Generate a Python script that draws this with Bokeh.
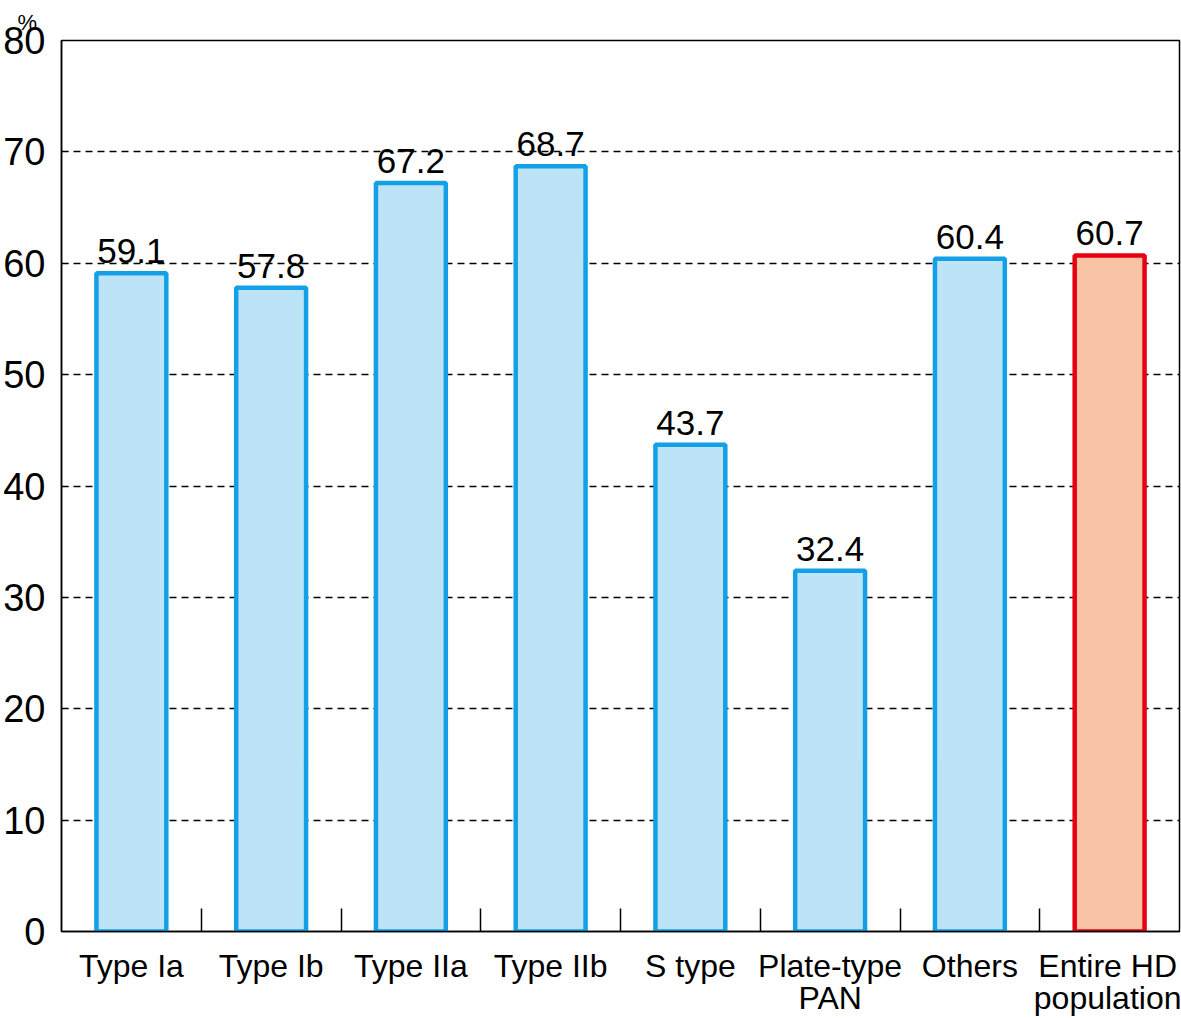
from bokeh.plotting import figure
from bokeh.models import Range1d, FixedTicker, ColumnDataSource
from bokeh.core.properties import value
from bokeh.embed import file_html
from bokeh.resources import INLINE

categories = ["Type Ia", "Type Ib", "Type IIa", "Type IIb", "S type",
              "Plate-type\nPAN", "Others", "Entire HD\npopulation"]
values = [59.1, 57.8, 67.2, 68.7, 43.7, 32.4, 60.4, 60.7]
y_ticks = [0, 10, 20, 30, 40, 50, 60, 70, 80]
unit_label = "%"
highlight = "Entire HD\npopulation"

FONT = "Liberation Sans"
n = len(categories)
centers = [i + 0.5 for i in range(n)]
bounds = [float(i) for i in range(1, n)]

src = ColumnDataSource(dict(
    x=centers,
    top=values,
    label=[f"{v:.1f}" for v in values],
    fill=["#f9c4a6" if c == highlight else "#bde3f7" for c in categories],
    line=["#e60012" if c == highlight else "#14a0e6" for c in categories],
))

p = figure(width=1181, height=1018, output_backend="svg", toolbar_location=None,
           x_range=Range1d(0, n), y_range=Range1d(y_ticks[0], y_ticks[-1]),
           min_border_left=60, min_border_right=2, min_border_top=40,
           min_border_bottom=83, title=unit_label)
p.background_fill_color = "white"
p.border_fill_color = "white"
p.outline_line_color = "black"
p.outline_line_width = 1.5

p.title.align = "left"
p.title.offset = -44
p.title.standoff = 12
p.title.text_font = FONT
p.title.text_font_size = "22px"
p.title.text_font_style = "normal"
p.title.text_color = "black"

p.vbar(x="x", top="top", width=0.5, bottom=0, source=src,
       fill_color="fill", line_color="line", line_width=4.5)

p.text(x="x", y="top", text="label", source=src, text_align="center",
       text_baseline="alphabetic", y_offset=-22,
       text_font=value(FONT), text_font_size="35px", text_color="black")

# grid
p.xgrid.visible = False
p.ygrid.ticker = FixedTicker(ticks=y_ticks[1:-1])
p.ygrid.grid_line_color = "black"
p.ygrid.grid_line_dash = "7 5"
p.ygrid.grid_line_width = 1.4

# y axis
ya = p.yaxis[0]
ya.ticker = FixedTicker(ticks=y_ticks)
ya.major_tick_in = 7
ya.major_tick_out = 0
ya.minor_tick_line_color = None
ya.axis_line_color = "black"
ya.axis_line_width = 1.5
ya.major_label_text_font = FONT
ya.major_label_text_font_size = "38px"
ya.major_label_text_color = "black"
ya.major_label_standoff = 16

# x axis
xa = p.xaxis[0]
xa.ticker = FixedTicker(ticks=centers, minor_ticks=bounds)
xa.major_label_overrides = {c: lab for c, lab in zip(centers, categories)}
xa.major_tick_line_color = None
xa.major_tick_in = 0
xa.major_tick_out = 0
xa.minor_tick_in = 23
xa.minor_tick_out = 0
xa.minor_tick_line_color = "black"
xa.minor_tick_line_width = 1.5
xa.axis_line_color = "black"
xa.axis_line_width = 1.5
xa.major_label_text_font = FONT
xa.major_label_text_font_size = "32px"
xa.major_label_text_color = "black"
xa.major_label_text_line_height = 0.9
xa.major_label_standoff = 16

open("out.html", "w").write(file_html(p, INLINE))
